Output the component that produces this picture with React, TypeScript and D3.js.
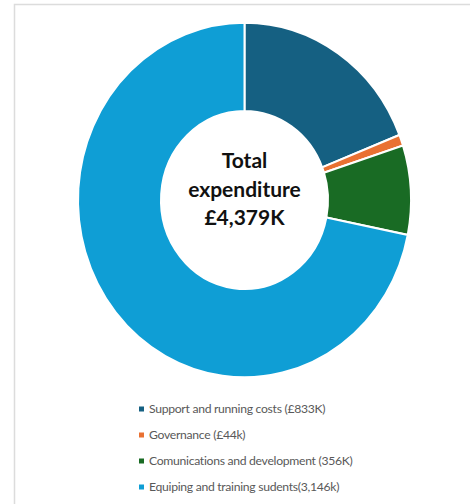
import React from "react";
import * as d3 from "d3";

const categories = [
  "Support and running costs (£833K)",
  "Governance (£44k)",
  "Comunications and development (356K)",
  "Equiping and training sudents(3,146k)",
];
const values = [833, 44, 356, 3146];
const colors = ["#156082", "#E97132", "#196B24", "#0F9ED5"];
const centerLines = ["Total", "expenditure", "£4,379K"];

const W = 470;
const H = 504;

export default function App() {
  const cx = 244.5;
  const cy = 200;
  const rOuter = 166.5;
  const rInner = 83.5;
  const yScale = 1.065;

  const pie = d3.pie<number>().sort(null).value((d) => d)(values);
  const arc = d3.arc<d3.PieArcDatum<number>>().innerRadius(rInner).outerRadius(rOuter);

  const legendY = d3.scalePoint<number>().domain(d3.range(categories.length)).range([409, 487]);
  const textY = d3.scalePoint<number>().domain(d3.range(centerLines.length)).range([168, 225]);

  return (
    <svg
      width={W}
      height={H}
      style={{ position: "absolute", left: 0, top: 0, display: "block", background: "#fff" }}
    >
      <path d={`M14.5,${H} V4.5 H${W}`} fill="none" stroke="#dcdcdc" strokeWidth={1.5} />
      <g transform={`translate(${cx},${cy}) scale(1,${yScale})`}>
        {pie.map((p, i) => (
          <path key={i} d={arc(p) || ""} fill={colors[i]} stroke="#fff" strokeWidth={2} />
        ))}
      </g>
      {centerLines.map((t, i) => (
        <text
          key={t}
          x={cx}
          y={textY(i)}
          textAnchor="middle"
          fontFamily="Lato, 'Open Sans', sans-serif"
          fontWeight={700}
          fontSize={21}
          fill="#111"
        >
          {t}
        </text>
      ))}
      {categories.map((c, i) => (
        <g key={c} transform={`translate(139,${legendY(i)})`}>
          <rect x={0} y={-2.5} width={5} height={5} fill={colors[i]} />
          <text
            x={10}
            y={0}
            dy="0.35em"
            fontFamily="Lato, 'Open Sans', sans-serif"
            fontSize={12.2}
            letterSpacing={-0.3}
            fill="#595959"
          >
            {c}
          </text>
        </g>
      ))}
    </svg>
  );
}
